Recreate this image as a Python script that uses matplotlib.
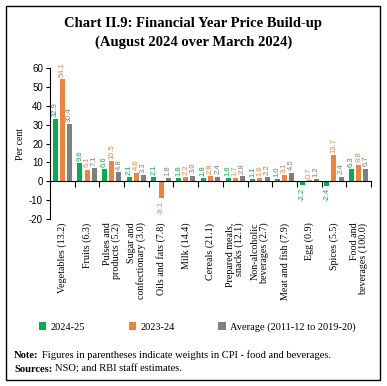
import matplotlib
matplotlib.use("Agg")
import matplotlib.pyplot as plt
import numpy as np
from matplotlib.patches import Rectangle

categories = ["Vegetables (13.2)", "Fruits (6.3)", "Pulses and\nproducts (5.2)",
              "Sugar and\nconfectionary (3.0)", "Oils and fats (7.8)", "Milk (14.4)",
              "Cereals (21.1)", "Prepared meals,\nsnacks (12.1)", "Non-alcoholic\nbeverages (2.7)",
              "Meat and fish (7.9)", "Egg (0.9)", "Spices (5.5)", "Food and\nbeverages (100.0)"]
s2024 = [32.9, 9.6, 6.6, 2.1, 2.1, 1.8, 1.8, 1.6, 1.1, 1.0, -2.2, -2.4, 6.3]
s2023 = [54.1, 6.1, 10.5, 4.6, -9.1, 2.2, 2.8, 1.7, 1.6, 3.1, 0.7, 13.7, 8.8]
savg = [30.4, 7.1, 4.8, 3.3, 1.8, 3.0, 2.4, 2.8, 2.2, 4.5, 1.2, 2.4, 6.7]
series_names = ["2024-25", "2023-24", "Average (2011-12 to 2019-20)"]
colors = ["#00B050", "#F0823A", "#7F7F7F"]
yticks = [-20, -10, 0, 10, 20, 30, 40, 50, 60]

W, H = 387, 386
fig = plt.figure(figsize=(W / 100, H / 100), dpi=100)
serif = "Liberation Serif"

# frame
fig.patches.append(Rectangle((6 / W, 1 - 380 / H), 374 / W, 374 / H, transform=fig.transFigure,
                             fill=False, edgecolor="black", linewidth=1.0))

fig.text(0.5, 1 - 23 / H, "Chart II.9: Financial Year Price Build-up", ha="center", va="center",
         fontsize=10.5, fontweight="bold", family=serif)
fig.text(0.5, 1 - 42 / H, "(August 2024 over March 2024)", ha="center", va="center",
         fontsize=10.5, fontweight="bold", family=serif)

ax = fig.add_axes([50 / W, 1 - 219 / H, 321 / W, 151 / H])
n = len(categories)
x = np.arange(n)
bw = 0.2
offs = [-0.29, 0.0, 0.29]
data = [s2024, s2023, savg]
handles = []
for k in range(3):
    b = ax.bar(x + offs[k], data[k], width=bw, color=colors[k], label=series_names[k], zorder=2)
    handles.append(b)
    for xi, v in zip(x + offs[k], data[k]):
        if v >= 0:
            ax.text(xi, v + 1.2, f"{v:.1f}", rotation=90, ha="center", va="bottom",
                    fontsize=5.5, color=colors[k], family="Liberation Sans")
        else:
            ax.text(xi, v - 1.2, f"{v:.1f}", rotation=90, ha="center", va="top",
                    fontsize=5.5, color=colors[k], family="Liberation Sans")

ax.set_xlim(-0.5, n - 0.5)
ax.set_ylim(-20, 60)
ax.set_yticks(yticks)
ax.set_yticklabels([str(t) for t in yticks], fontsize=7, family="Liberation Sans")
ax.tick_params(axis="y", length=3, width=0.8, pad=2)
ax.spines["top"].set_visible(False)
ax.spines["right"].set_visible(False)
ax.spines["bottom"].set_position(("data", 0))
ax.spines["left"].set_linewidth(0.8)
ax.spines["bottom"].set_linewidth(0.8)
ax.set_xticks(np.arange(n + 1) - 0.5)
ax.set_xticklabels([])
ax.tick_params(axis="x", length=4, width=0.8, direction="out")
ax.set_ylabel("Per cent", fontsize=7, family=serif, labelpad=3)

for i, lab in enumerate(categories):
    ax.text(i, -21.8, lab, rotation=90, ha="center", va="top", multialignment="right",
            fontsize=7.2, family=serif, linespacing=0.9)

fig.legend(handles=handles, labels=series_names, loc="center", bbox_to_anchor=(0.51, 1 - 327 / H),
           ncol=3, frameon=False, prop={"family": serif, "size": 7.5},
           handlelength=0.7, handleheight=0.7, handletextpad=0.4, columnspacing=4.2)

fig.text(14 / W, 1 - 355 / H, "Note:", ha="left", va="center", fontsize=7.6, family=serif,
         fontweight="bold")
fig.text(14 / W, 1 - 369 / H, "Sources:", ha="left", va="center", fontsize=7.6, family=serif,
         fontweight="bold")
fig.text(42 / W, 1 - 355 / H, "Figures in parentheses indicate weights in CPI - food and beverages.",
         ha="left", va="center", fontsize=7.6, family=serif)
fig.text(55 / W, 1 - 369 / H, "NSO; and RBI staff estimates.", ha="left", va="center",
         fontsize=7.6, family=serif)

fig.savefig("out.png", dpi=100)
